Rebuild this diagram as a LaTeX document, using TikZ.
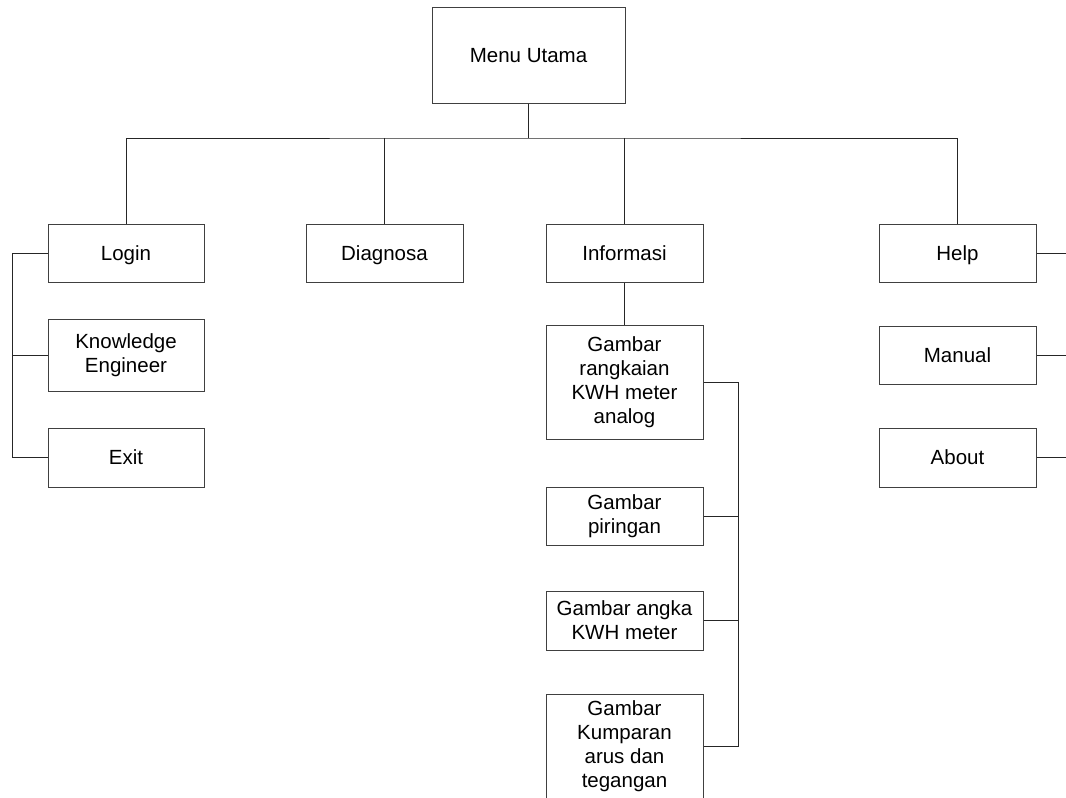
\documentclass[tikz,border=0pt]{standalone}
\usepackage{fontspec}
\setmainfont{Liberation Sans}
\begin{document}
\begin{tikzpicture}[x=1pt,y=-1pt,
  box/.style={draw=black!75, line width=1pt, fill=white, align=center, inner sep=0pt,
    font=\fontsize{20.5}{24.2}\selectfont},
  one/.style={text height=14.7pt, text depth=0pt},
  conn/.style={draw=black!85, line width=1pt}]
\clip (0,0) rectangle (1066,798);
% top
\node[box, one, minimum width=193pt, minimum height=96pt] (menu) at (528.5,55) {Menu Utama};
% level 1
\node[box, one, minimum width=156pt, minimum height=58pt] (login) at (126,253) {Login};
\node[box, one, minimum width=157pt, minimum height=58pt] (diag) at (384.5,253) {Diagnosa};
\node[box, one, minimum width=157pt, minimum height=58pt] (info) at (624.5,253) {Informasi};
\node[box, one, minimum width=157pt, minimum height=58pt] (help) at (957.5,253) {Help};
% login children
\node[box, minimum width=156pt, minimum height=72pt] (ke) at (126,355) {Knowledge\\Engineer};
\node[box, one, minimum width=156pt, minimum height=59pt] (exit) at (126,457.5) {Exit};
% help children
\node[box, one, minimum width=157pt, minimum height=58pt] (manual) at (957.5,355) {Manual};
\node[box, one, minimum width=157pt, minimum height=59pt] (about) at (957.5,457.5) {About};
% info children
\node[box, minimum width=157pt, minimum height=114pt] (g1) at (624.5,382) {Gambar\\rangkaian\\KWH meter\\analog};
\node[box, minimum width=157pt, minimum height=58pt] (g2) at (624.5,516) {Gambar\\piringan};
\node[box, minimum width=157pt, minimum height=59pt] (g3) at (624.5,620.5) {Gambar angka\\KWH meter};
\node[box, minimum width=157pt, minimum height=104pt] (g4) at (624.5,746) {Gambar\\Kumparan\\arus dan\\tegangan};
\coordinate (bus) at (528.5,138);
\coordinate (lb) at (12,0);
\coordinate (ib) at (738,0);
\coordinate (r1) at (1066,253);
\coordinate (r2) at (1066,355);
\coordinate (r3) at (1066,457.5);
% connectors
\draw[conn, line width=1.6pt] (menu.south) -- (bus);
\draw[conn] (login.north) |- (bus) -| (help.north);
\draw[conn] (diag.north) -- (diag.north |- bus);
\draw[conn] (info.north) -- (info.north |- bus);
\draw[conn] (info.south) -- (g1.north);
\draw[conn] (login.west) -| (lb |- exit.west) -- (exit.west);
\draw[conn] (ke.west) -- (lb |- ke.west);
\draw[conn] (g1.east) -| (ib |- g4.east) -- (g4.east);
\draw[conn] (g2.east) -- (ib |- g2.east);
\draw[conn] (g3.east) -- (ib |- g3.east);
\draw[conn] (help.east) -- (r1);
\draw[conn] (manual.east) -- (r2);
\draw[conn] (about.east) -- (r3);
\end{tikzpicture}
\end{document}
